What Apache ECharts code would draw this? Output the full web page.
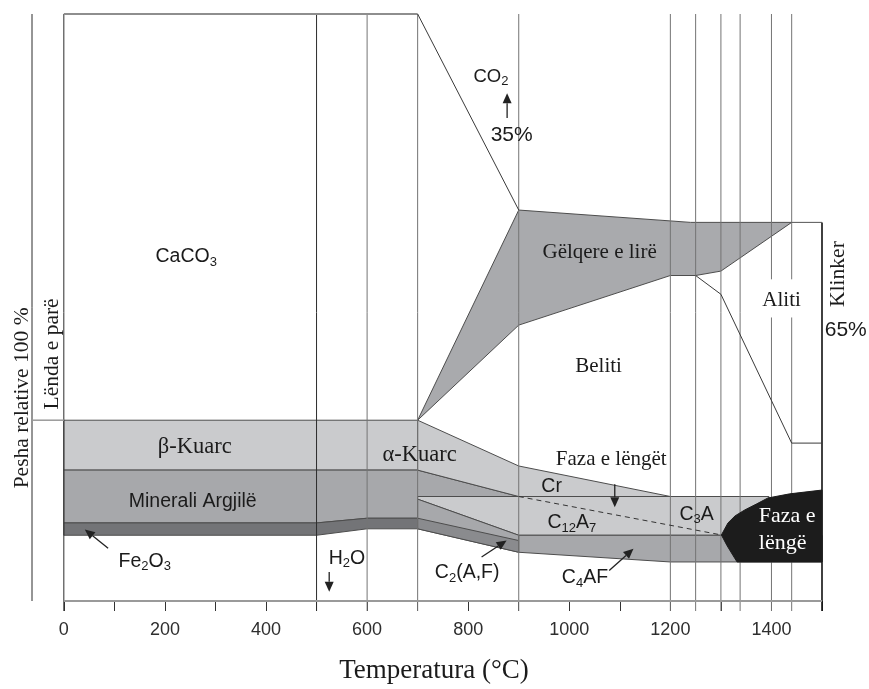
<!DOCTYPE html>
<html>
<head>
<meta charset="utf-8">
<script src="https://cdn.jsdelivr.net/npm/echarts@6/dist/echarts.min.js"></script>
<style>
  html, body { margin: 0; padding: 0; background: #fff; overflow: hidden; }
  #chart { width: 869px; height: 689px; }
</style>
</head>
<body>
<div id="chart"></div>
<script>
// ---- temperature axis (°C) ----
const tempMin = -63;
const tempMax = 1500;
const tickTemps = [0, 100, 200, 300, 400, 500, 600, 700, 800, 900, 1000, 1100, 1200, 1300, 1400, 1500];
const labelTemps = [0, 200, 400, 600, 800, 1000, 1200, 1400];

// ---- relative weight (%), 100 = raw meal at the top of the diagram ----
// reaction isotherms drawn as vertical rules
const isotherms = [500, 600, 700, 900, 1200, 1250, 1300, 1338, 1400, 1440];
// break in the 1400 / 1440 rules around the alite label
const aliteGap = [48.3, 54.8];

// phase fields, [temperature, relative weight]
const betaQuartz   = [[0, 30.8], [700, 30.8], [700, 22.3], [0, 22.3]];
const clayMinerals = [[0, 22.3], [700, 22.3], [900, 17.8], [700, 17.8], [700, 14.1], [600, 14.1], [500, 13.3], [0, 13.3]];
const ironOxide    = [[0, 13.3], [500, 13.3], [600, 14.1], [700, 14.1], [700, 12.3], [600, 12.3], [500, 11.2], [0, 11.2]];
const alphaQuartz  = [[700, 30.8], [900, 23.0], [1200, 17.8], [900, 17.8], [700, 22.3]];
const aluminates   = [[700, 17.8], [1395, 17.8], [1395, 11.2], [900, 11.2], [700, 17.35]];
const ferriteWedge = [[700, 17.35], [900, 11.2], [900, 8.3], [700, 12.3]];
const c2afBand     = [[700, 14.1], [900, 10.3], [900, 8.3], [700, 12.3]];
const c4afBand     = [[900, 11.2], [1500, 11.2], [1500, 6.65], [1200, 6.65], [900, 8.3]];
const freeLime     = [[700, 30.8], [900, 66.6], [1200, 64.75], [1240, 64.5], [1440, 64.5], [1300, 56.2], [1250, 55.45], [1200, 55.45], [900, 47.0]];
const meltPhase    = [[1301, 11.25], [1314, 13.3], [1328, 14.5], [1347, 15.5], [1371, 16.55], [1393, 17.55], [1436, 18.25], [1500, 18.9],
                      [1500, 6.65], [1332, 6.65], [1324, 7.75], [1312, 9.45]];

// boundary lines
const rawMealTop   = [[0, 100], [700, 100]];
const co2Release   = [[700, 100], [900, 66.6]];
const aliteLine    = [[1250, 55.45], [1300, 52.25], [1440, 26.9], [1500, 26.9]];
const clinkerTop   = [[1440, 64.5], [1500, 64.5]];
const rawMealBase  = [[tempMin, 30.8], [0, 30.8]];
const c12a7Limit   = [[900, 17.8], [1301, 11.25]];
const baseLine     = [[0, 0], [1500, 0]];

// arrows: [tail, tip]
const arrows = [
  [[877, 82.3], [877, 86.5]],
  [[87.6, 9.0], [41.5, 12.2]],
  [[525, 4.95], [525, 1.57]],
  [[1090, 19.9], [1090, 15.95]],
  [[826.5, 7.5], [876, 10.3]],
  [[1079, 5.2], [1127, 8.9]]
];

// labels: text and anchor [temperature, relative weight]
const labels = [
  { text: 'CaCO{s|3}', at: [242, 58.6], kind: 'sans' },
  { text: 'CO{s|2}', at: [845, 89.2], kind: 'sansS' },
  { text: '35%', at: [886, 79.3], kind: 'pct' },
  { text: 'Gëlqere e lirë', at: [1060, 59.3], kind: 'serif' },
  { text: 'Beliti', at: [1058, 39.9], kind: 'serif' },
  { text: 'Aliti', at: [1420, 51.2], kind: 'serif' },
  { text: 'Klinker', at: [1532, 55.7], kind: 'serifV' },
  { text: '65%', at: [1547, 46.1], kind: 'pct' },
  { text: 'Lënda e parë', at: [-22, 42.1], kind: 'serifV' },
  { text: 'Pesha relative 100 %', at: [-83, 34.6], kind: 'serifV' },
  { text: 'β-Kuarc', at: [259, 26.2], kind: 'serifL' },
  { text: 'Minerali Argjilë', at: [255, 16.9], kind: 'sans' },
  { text: 'Fe{s|2}O{s|3}', at: [160, 6.75], kind: 'sans' },
  { text: 'α-Kuarc', at: [704, 24.8], kind: 'serifL' },
  { text: 'H{s|2}O', at: [560, 7.3], kind: 'sans' },
  { text: 'Faza e lëngët', at: [1083, 24.15], kind: 'serif' },
  { text: 'Cr', at: [965, 19.4], kind: 'sans' },
  { text: 'C{s|12}A{s|7}', at: [1005, 13.3], kind: 'sans' },
  { text: 'C{s|3}A', at: [1252, 14.7], kind: 'sans' },
  { text: 'Faza e\nlëngë', at: [1375, 12.1], kind: 'melt' },
  { text: 'C{s|2}(A,F)', at: [798, 4.75], kind: 'sans' },
  { text: 'C{s|4}AF', at: [1031, 3.9], kind: 'sans' }
];

// ---- styling ----
const SERIF = '"Liberation Serif", "DejaVu Serif", serif';
const SANS = '"Liberation Sans", Arial, "DejaVu Sans", sans-serif';
const INK = '#1b1b1b';
const LIGHT = '#cacbcd', MID = '#a7a8ab', DARK = '#737477', C2AF = '#8a8b8e', LIME = '#a9aaad', MELT = '#1c1c1c';
const EDGE = '#4d4d4d';

const labelKinds = {
  sans:   { font: SANS, size: 19.5, color: INK },
  sansS:  { font: SANS, size: 18.5, color: INK },
  pct:    { font: SANS, size: 21, color: INK },
  serif:  { font: SERIF, size: 21, color: INK },
  serifL: { font: SERIF, size: 22.5, color: INK },
  serifV: { font: SERIF, size: 21.5, color: INK, rotate: Math.PI / 2 },
  melt:   { font: SERIF, size: 22, color: '#ffffff', align: 'left', lineHeight: 27 }
};

const fills = [
  { pts: betaQuartz, fill: LIGHT },
  { pts: clayMinerals, fill: MID },
  { pts: ironOxide, fill: DARK },
  { pts: alphaQuartz, fill: LIGHT },
  { pts: aluminates, fill: LIGHT },
  { pts: ferriteWedge, fill: MID },
  { pts: c2afBand, fill: C2AF },
  { pts: c4afBand, fill: MID },
  { pts: freeLime, fill: LIME }
];

const strokes = [
  { pts: rawMealTop, color: '#8e8e8e', width: 2 },
  { pts: baseLine, color: '#9a9a9a', width: 2 },
  { pts: rawMealBase, color: '#9a9a9a', width: 1.5 },
  { pts: co2Release, color: '#3a3a3a', width: 1 },
  { pts: aliteLine, color: '#3a3a3a', width: 1 },
  { pts: clinkerTop, color: '#555', width: 1 },
  { pts: c12a7Limit, color: '#333', width: 1, dash: [5, 4] }
];

function polygonLayer(items, z) {
  return {
    type: 'custom', coordinateSystem: 'cartesian2d', silent: true, z: z,
    data: items.map(it => it.pts[0]),
    renderItem: (params, api) => {
      const it = items[params.dataIndex];
      return {
        type: 'polygon',
        shape: { points: it.pts.map(p => api.coord(p)) },
        style: { fill: it.fill, stroke: it.stroke || EDGE, lineWidth: 1 }
      };
    }
  };
}

const chart = echarts.init(document.getElementById('chart'));

const option = {
  animation: false,
  backgroundColor: '#ffffff',
  grid: { left: 32, right: 47, top: 14, height: 592, containLabel: false },
  xAxis: {
    type: 'value', min: tempMin, max: tempMax,
    axisLine: { show: false },
    splitLine: { show: false },
    axisTick: { show: true, customValues: tickTemps, length: 10, lineStyle: { color: '#333', width: 1 } },
    axisLabel: {
      customValues: labelTemps, margin: 20, color: '#2e2e2e', fontSize: 18, fontFamily: SANS,
      formatter: v => String(v)
    },
    name: 'Temperatura (°C)', nameLocation: 'middle', nameGap: 56,
    nameTextStyle: { fontFamily: SERIF, fontSize: 27, color: INK, padding: [0, 0, 0, 14] }
  },
  yAxis: { type: 'value', min: 0, max: 100, show: false },
  series: [
    polygonLayer(fills, 1),
    // isotherm rules (drawn over the phase fields)
    {
      type: 'custom', coordinateSystem: 'cartesian2d', silent: true, z: 2,
      data: isotherms.concat([0, tempMin, 1500]).map(t => [t, 100]),
      renderItem: (params, api) => {
        const t = api.value(0);
        const top = api.coord([t, t === 1500 ? clinkerTop[0][1] : 100]);
        const bot = api.coord([t, 0]);
        const ext = (t === tempMin) ? 0 : 10;
        let color = '#747474', width = 1;
        if (t === 500 || t === 0 || t === tempMin) { color = '#2c2c2c'; }
        if (t === 1500) { color = '#111'; width = 1.6; }
        const segs = [];
        if (t === 1400 || t === 1440) {
          const g1 = api.coord([t, aliteGap[1]]);
          const g0 = api.coord([t, aliteGap[0]]);
          segs.push([top, g1], [g0, [bot[0], bot[1] + ext]]);
        } else {
          segs.push([top, [bot[0], bot[1] + ext]]);
        }
        return {
          type: 'group',
          children: segs.map(s => ({
            type: 'line',
            shape: { x1: s[0][0], y1: s[0][1], x2: s[1][0], y2: s[1][1] },
            style: { stroke: color, lineWidth: width }
          }))
        };
      }
    },
    // liquid phase
    polygonLayer([{ pts: meltPhase, fill: MELT, stroke: MELT }], 3),
    // boundary lines
    {
      type: 'custom', coordinateSystem: 'cartesian2d', silent: true, z: 4,
      data: strokes.map(s => s.pts[0]),
      renderItem: (params, api) => {
        const s = strokes[params.dataIndex];
        return {
          type: 'polyline',
          shape: { points: s.pts.map(p => api.coord(p)) },
          style: { stroke: s.color, lineWidth: s.width, fill: null, lineDash: s.dash || null }
        };
      }
    },
    // arrows
    {
      type: 'custom', coordinateSystem: 'cartesian2d', silent: true, z: 5,
      data: arrows.map(a => a[0]),
      renderItem: (params, api) => {
        const a = arrows[params.dataIndex];
        const p0 = api.coord(a[0]), p1 = api.coord(a[1]);
        const dx = p1[0] - p0[0], dy = p1[1] - p0[1];
        const len = Math.sqrt(dx * dx + dy * dy);
        const ux = dx / len, uy = dy / len;
        const hl = 10, hw = 4.5;
        const bx = p1[0] - ux * hl, by = p1[1] - uy * hl;
        return {
          type: 'group',
          children: [
            { type: 'line', shape: { x1: p0[0], y1: p0[1], x2: bx, y2: by }, style: { stroke: '#222', lineWidth: 1.3 } },
            { type: 'polygon', shape: { points: [p1, [bx - uy * hw, by + ux * hw], [bx + uy * hw, by - ux * hw]] }, style: { fill: '#222' } }
          ]
        };
      }
    },
    // labels
    {
      type: 'custom', coordinateSystem: 'cartesian2d', silent: true, z: 6,
      data: labels.map(l => l.at),
      renderItem: (params, api) => {
        const l = labels[params.dataIndex];
        const k = labelKinds[l.kind];
        const c = api.coord(l.at);
        const lh = k.lineHeight || Math.round(k.size * 1.2);
        return {
          type: 'text',
          x: c[0], y: c[1], rotation: k.rotate || 0,
          style: {
            text: l.text,
            fill: k.color,
            fontSize: k.size,
            fontFamily: k.font,
            align: k.align || 'center',
            verticalAlign: 'middle',
            lineHeight: lh,
            rich: {
              s: { fontSize: Math.round(k.size * 0.68), fontFamily: k.font, fill: k.color, verticalAlign: 'bottom', lineHeight: Math.round(k.size * 0.7) }
            }
          }
        };
      }
    }
  ]
};

chart.setOption(option);
</script>
</body>
</html>
